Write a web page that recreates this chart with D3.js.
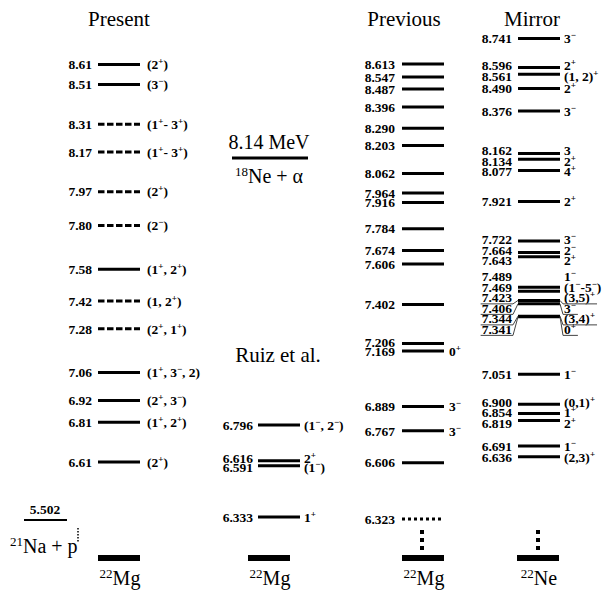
<!DOCTYPE html>
<html>
<head>
<meta charset="utf-8">
<script src="https://cdn.jsdelivr.net/npm/d3@7"></script>
<style>
  body { margin: 0; background: #fff; }
  svg text { font-family: "Liberation Serif", "Times New Roman", Tinos, "DejaVu Serif", serif; }
  .val, .spin { font-size: 13.5px; font-weight: bold; }
  .title { font-size: 21px; }
</style>
</head>
<body>
<svg width="603" height="590"></svg>
<script>
const width = 603;
const height = 590;

// Level energies (MeV) and spin labels; "^x" marks a superscript character
const presentE = [8.61, 8.51, 8.31, 8.17, 7.97, 7.80, 7.58, 7.42, 7.28, 7.06, 6.92, 6.81, 6.61];
const presentJ = ["(2^+)", "(3^−)", "(1^+- 3^+)", "(1^+- 3^+)", "(2^+)", "(2^−)", "(1^+, 2^+)",
  "(1, 2^+)", "(2^+, 1^+)", "(1^+, 3^−, 2)", "(2^+, 3^−)", "(1^+, 2^+)", "(2^+)"];
const presentTentative = [false, false, true, true, true, true, false, true, true, false, false, false, false];

const ruizE = [6.796, 6.616, 6.591, 6.333];
const ruizJ = ["(1^−, 2^−)", "2^+", "(1^−)", "1^+"];

const previousE = [8.613, 8.547, 8.487, 8.396, 8.290, 8.203, 8.062, 7.964, 7.916, 7.784, 7.674, 7.606,
  7.402, 7.206, 7.169, 6.889, 6.767, 6.606, 6.323];
const previousJ = ["", "", "", "", "", "", "", "", "", "", "", "", "", "", "0^+", "3^−", "3^−", "", ""];
const previousTentative = previousE.map(e => e === 6.323);

const mirrorE = [8.741, 8.596, 8.561, 8.490, 8.376, 8.162, 8.134, 8.077, 7.921, 7.722, 7.664, 7.643,
  7.489, 7.469, 7.423, 7.406, 7.344, 7.341, 7.051, 6.900, 6.854, 6.819, 6.691, 6.636];
const mirrorJ = ["3^−", "2^+", "(1, 2)^+", "2^+", "3^−", "3", "2^+", "4^+", "2^+", "3^−", "2^−", "2^+",
  "1^−", "(1^−-5^−)", "(3,5)^+", "3^−", "(3,4)^+", "0^+", "1^−", "(0,1)^+", "1^+", "2^+", "1^−", "(2,3)^+"];
const mirrorLeader = [7.423, 7.406, 7.344, 7.341];

const alphaThreshold = 8.14;
const protonThreshold = 5.502;

const svg = d3.select("svg");
svg.append("rect").attr("width", width).attr("height", height).attr("fill", "#fff");

const y = d3.scaleLinear().domain([6.323, 8.613]).range([519, 64]);

// column geometry
const cols = {
  Present:  { valR: 92,  x0: 98,  x1: 140, spinX: 147, fmt: d3.format(".2f"), gap: 10 },
  Ruiz:     { valR: 253, x0: 258, x1: 300, spinX: 304, fmt: d3.format(".3f"), gap: 9 },
  Previous: { valR: 395, x0: 402, x1: 444, spinX: 449, fmt: d3.format(".3f"), gap: 9 },
  Mirror:   { valR: 512, x0: 518, x1: 560, spinX: 564, fmt: d3.format(".3f"), gap: 10.5 }
};

// push overlapping labels apart, keeping each cluster centred on its levels
function spread(ys, gap) {
  const order = d3.range(ys.length).sort((a, b) => ys[a] - ys[b]);
  const blocks = [];
  order.forEach(i => {
    blocks.push({ ids: [i], mean: ys[i] });
    while (blocks.length > 1) {
      const b = blocks[blocks.length - 1], a = blocks[blocks.length - 2];
      const aEnd = a.mean + (a.ids.length - 1) * gap / 2;
      const bStart = b.mean - (b.ids.length - 1) * gap / 2;
      if (bStart - aEnd >= gap) break;
      const ids = a.ids.concat(b.ids);
      blocks.splice(-2, 2, { ids, mean: d3.mean(ids, j => ys[j]) });
    }
  });
  const out = [];
  blocks.forEach(b => b.ids.forEach((id, k) => {
    out[id] = b.mean + (k - (b.ids.length - 1) / 2) * gap;
  }));
  return out;
}

function rich(textSel, str, supSize, shift) {
  const parts = str.split(/\^(.)/);
  let raised = false;
  parts.forEach((p, i) => {
    if (p === "") return;
    const sup = i % 2 === 1;
    const t = textSel.append("tspan").text(p);
    if (sup) {
      t.attr("font-size", supSize).attr("dy", raised ? 0 : -shift);
      raised = true;
    } else if (raised) {
      t.attr("dy", shift);
      raised = false;
    }
  });
}

function drawColumn(name, energies, spins, tentative, leaders) {
  const c = cols[name];
  const g = svg.append("g").attr("class", "col-" + name);
  const lineY = energies.map(e => y(e));
  const labY = spread(lineY, c.gap);

  energies.forEach((e, i) => {
    g.append("line")
      .attr("x1", c.x0).attr("x2", c.x1)
      .attr("y1", lineY[i]).attr("y2", lineY[i])
      .attr("stroke", "#000").attr("stroke-width", 3)
      .attr("stroke-dasharray", tentative && tentative[i] ? (e === 6.323 ? "3,3" : "6.5,2.5") : null);

    const v = g.append("text").attr("class", "val")
      .attr("x", c.valR).attr("y", labY[i]).attr("dy", "0.35em")
      .attr("text-anchor", "end").text(c.fmt(e));

    let s = null;
    if (spins[i]) {
      s = g.append("text").attr("class", "spin")
        .attr("x", c.spinX).attr("y", labY[i]).attr("dy", "0.35em");
      rich(s, spins[i], "9px", 5);
    }

    if (leaders && leaders.includes(e)) {
      const uy = labY[i] + 6.5;
      const vw = v.node().getComputedTextLength();
      g.append("polyline")
        .attr("points", [[c.valR - vw - 1, uy], [c.valR + 1, uy], [c.x0, lineY[i]]].join(" "))
        .attr("fill", "none").attr("stroke", "#444").attr("stroke-width", 1);
      const sw = s ? s.node().getComputedTextLength() : 10;
      g.append("polyline")
        .attr("points", [[c.x1, lineY[i]], [c.spinX - 1, uy], [c.spinX + sw + 2, uy]].join(" "))
        .attr("fill", "none").attr("stroke", "#444").attr("stroke-width", 1);
    }
  });
}

drawColumn("Present", presentE, presentJ, presentTentative);
drawColumn("Ruiz", ruizE, ruizJ, null);
drawColumn("Previous", previousE, previousJ, previousTentative);
drawColumn("Mirror", mirrorE, mirrorJ, null, mirrorLeader);

// titles
[["Present", 119, 26], ["Previous", 404, 26], ["Mirror", 532, 26], ["Ruiz et al.", 278, 362]]
  .forEach(([t, x, yy]) => svg.append("text").attr("class", "title")
    .attr("x", x).attr("y", yy).attr("text-anchor", "middle").text(t));

// alpha threshold
svg.append("line").attr("x1", 232).attr("x2", 308)
  .attr("y1", y(alphaThreshold)).attr("y2", y(alphaThreshold))
  .attr("stroke", "#000").attr("stroke-width", 3);
svg.append("text").attr("x", 269).attr("y", y(alphaThreshold) - 9)
  .attr("text-anchor", "middle").attr("font-size", 20).text(`${alphaThreshold} MeV`);
const ne = svg.append("text").attr("x", 269).attr("y", y(alphaThreshold) + 25)
  .attr("text-anchor", "middle").attr("font-size", 20);
ne.append("tspan").attr("font-size", 13).attr("dy", -7).text("18");
ne.append("tspan").attr("dy", 7).text("Ne + α");

// proton threshold
svg.append("text").attr("x", 45).attr("y", 514).attr("text-anchor", "middle")
  .attr("font-size", 13.5).attr("font-weight", "bold").text(d3.format(".3f")(protonThreshold));
svg.append("line").attr("x1", 24).attr("x2", 67).attr("y1", 520).attr("y2", 520)
  .attr("stroke", "#000").attr("stroke-width", 2);
const na = svg.append("text").attr("x", 10).attr("y", 553).attr("font-size", 20);
na.append("tspan").attr("font-size", 13).attr("dy", -7).text("21");
na.append("tspan").attr("dy", 7).text("Na + p");
svg.append("line").attr("x1", 78).attr("x2", 78).attr("y1", 528).attr("y2", 542)
  .attr("stroke", "#000").attr("stroke-width", 1.5).attr("stroke-dasharray", "1.5,1.5");

// ground states and nuclide names
const grounds = [
  { x0: 98, x1: 140, el: "Mg" },
  { x0: 248, x1: 290, el: "Mg" },
  { x0: 402, x1: 444, el: "Mg" },
  { x0: 517, x1: 559, el: "Ne" }
];
grounds.forEach(gd => {
  svg.append("line").attr("x1", gd.x0).attr("x2", gd.x1).attr("y1", 558).attr("y2", 558)
    .attr("stroke", "#000").attr("stroke-width", 6);
  const t = svg.append("text").attr("x", (gd.x0 + gd.x1) / 2 + 1).attr("y", 585)
    .attr("text-anchor", "middle").attr("font-size", 20);
  t.append("tspan").attr("font-size", 13).attr("dy", -7).text("22");
  t.append("tspan").attr("dy", 7).text(gd.el);
});

// axis-break dots
[422, 538].forEach(x => svg.append("line").attr("x1", x).attr("x2", x)
  .attr("y1", 530).attr("y2", 551)
  .attr("stroke", "#000").attr("stroke-width", 4).attr("stroke-dasharray", "4,4"));
</script>
</body>
</html>
